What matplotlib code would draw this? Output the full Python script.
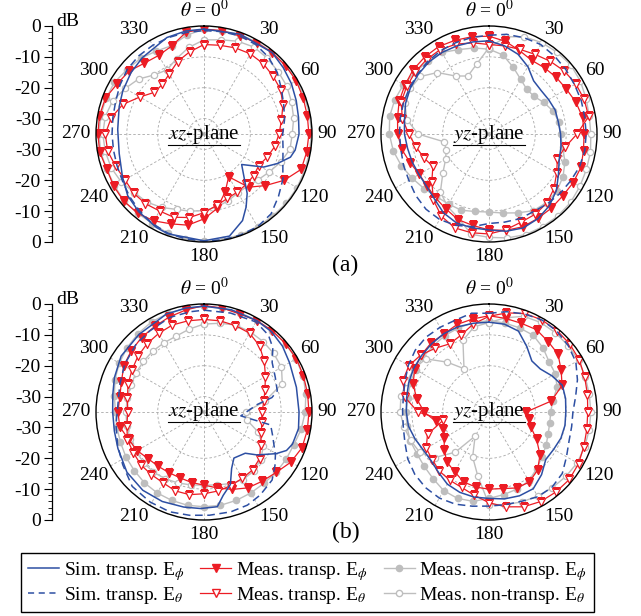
import numpy as np
import matplotlib
matplotlib.use('Agg')
import matplotlib.pyplot as plt
from matplotlib.lines import Line2D
from matplotlib.ticker import FixedLocator

plt.rcParams['font.family'] = 'serif'
plt.rcParams['font.serif'] = ['Liberation Serif', 'DejaVu Serif']
plt.rcParams['mathtext.fontset'] = 'stix'

# angles (deg, clockwise from theta=0) for the measured curves
ang10 = list(range(0, 360, 10))

# ---------------- (a) xz-plane ----------------
a_xz_sp_ang = [0, 20, 40, 50, 60, 70, 80, 90, 100, 105, 112, 119, 129, 137, 144, 150, 156, 166,
               180, 200, 207, 220, 231, 242, 257, 273, 288, 298, 310, 321, 339, 350]
a_xz_sp = [-1, -0.6, -0.6, -1.5, -2.3, -3.2, -3.9, -4.2, -5, -6, -9.4, -12.9, -19.3, -16, -11.2, -7.7,
           -4.3, -0.9, -0.4, -0.6, -1, -2.1, -3.2, -5.1, -6.8, -7, -6.1, -5.2, -4.1, -3.2, -1.5, -1.1]
a_xz_st = [-1.5, -1.3, -1.2, -1.5, -2.5, -4, -6, -7.5, -8.5, -9.5, -9, -7.8, -5.5, -3.5, -1.2, -0.3,
           -0.2, -0.2, -0.3, -0.5, -0.8, -1.5, -2.5, -3.5, -4.5, -5, -5.2, -5.2, -5, -4.5, -3.5, -2.5,
           -2, -1.8, -1.7, -1.6]
a_xz_mtp = [-1, -1, -1.2, -0.8, -0.6, -0.5, -0.5, -0.8, -1, -1, -1.2, -1.5, -5, -9, -12.5, -19, -15,
            -10.5, -7.5, -5, -4, -2.5, -1.5, -1.1, -1.2, -1.5, -0.7, -0.6, -0.6, -1, -2.5, -3.3, -5,
            -5.6, -4.6, -1.5]
a_xz_mtt = [-6, -5.8, -5.3, -5, -5.2, -5.8, -6.3, -7.8, -9.5, -10.7, -11.7, -13.2, -14.5, -14, -13.7,
            -13.3, -12.8, -11.5, -9.5, -7.5, -6.3, -6.2, -5.5, -5.2, -5.4, -4.5, -3.3, -3, -4.5, -7,
            -11, -14, -14, -12.5, -10, -8]
a_xz_mnp = [-1, -1, -0.8, -0.6, -0.5, -0.5, -0.3, -0.3, -0.2, -0.2, -0.3, -0.3, -0.2, -0.2, -0.3, -0.3,
            -0.3, -0.2, -0.2, -0.3, -0.8, -1.5, -1.5, -1.2, -1.5, -1.5, -1, -1, -1, -1.2, -1.5, -2.5,
            -3, -4, -4.5, -2.5]
a_xz_mnt = [-4.5, -4, -3, -2.5, -3, -3.6, -4, -4.8, -5.5, -6.4, -6.7, -8.5, -10.5, -12, -13, -13, -12,
            -11, -10.2, -9.6, -9, -7.5, -6.2, -5.5, -4, -3, -2.5, -2.2, -2.5, -3.5, -5.5, -7.3, -10,
            -11, -9, -6.5]

# ---------------- (a) yz-plane ----------------
a_yz_sp = [-4.8, -6, -7.5, -9.8, -12.5, -13, -12.7, -12.2, -12.2, -11.8, -11.3, -10.8, -9, -6.5, -4.6,
           -3.3, -2.6, -3, -3.9, -4.1, -4.3, -5.5, -7.5, -8.6, -8.8, -8.5, -8.2, -7.6, -7.2, -6.2,
           -5.5, -5, -4.6, -4.5, -4.6, -4.7]
a_yz_st = [-3, -2.2, -1.8, -1.5, -2, -2.5, -3, -3.2, -3.5, -3.5, -3.5, -3.8, -4.5, -5, -5.5, -6, -5.8,
           -6, -6, -4.5, -3.5, -3, -3.2, -4, -5, -5.5, -6, -6, -5.8, -5.5, -5.2, -4.8, -4.2, -3.8,
           -3.5, -3.2]
a_yz_mtp = [-3.3, -4.5, -6.2, -7.4, -7, -6.5, -6, -5, -4.2, -4.2, -3.9, -3.3, -3.5, -3.8, -3.6, -3.4,
            -3, -3.3, -3.9, -4.9, -5.5, -7, -8, -8.8, -8.9, -7.8, -6.3, -5.4, -4.9, -4, -3.5, -2.8,
            -2.5, -2.3, -2.7, -3]
a_yz_mtt = [-6, -6, -5.8, -5.2, -4.2, -3.2, -2.5, -2.2, -2.2, -6.5, -10, -11.4, -9.7, -7.5, -5.8, -5,
            -4.6, -3.5, -2.6, -2.5, -2.6, -4.2, -7, -10.8, -14, -12.5, -11, -9, -6.5, -4.7, -4.2,
            -3.8, -3.5, -3.4, -4, -5]
a_yz_mnp = [-7.5, -9, -12, -14.5, -16, -16, -14.5, -13, -12, -11.8, -10.8, -8.8, -7.3, -6.3, -6, -6.3,
            -7.8, -9, -9.7, -9.5, -8.7, -8.8, -8.5, -7.5, -6.3, -4.8, -3.5, -2.7, -2.3, -2.5, -3,
            -3.8, -4.2, -4.5, -5.9, -6.7]
a_yz_mnt = [-7, -3, -1.5, -0.8, -0.5, -0.3, -0.8, -1.5, -2, -2, -1.6, -1.4, -1, -0.5, -0.3, -0.3,
            -0.3, -0.8, -1.5, -2, -6, -8, -10.5, -15.5, -18.8, -20.2, -20.3, -12, -8, -6, -5.5, -6,
            -9, -13.3, -15, -12]

# ---------------- (b) xz-plane ----------------
b_xz_sp_ang = [0, 15, 30, 40, 50, 60, 75, 90, 100, 110, 115, 120, 129, 135, 147, 154, 160, 167, 172,
               182, 192, 205, 218, 232, 247, 258, 270, 281, 291, 304, 320, 339, 350]
b_xz_sp = [-0.7, -0.7, -0.8, -1, -1.8, -3, -4, -4.2, -3.9, -4.5, -5.5, -8, -12.9, -16.1, -17.2,
           -14.6, -10, -7.3, -4, -3.7, -3.5, -3, -2.8, -3.3, -4.7, -5.3, -5.4, -4.9, -3.9, -2.6,
           -2.2, -1, -0.8]
b_xz_st_ang = [0, 15, 30, 40, 47, 54, 64, 74, 78, 82, 96, 101, 108, 115, 121, 127, 135, 146, 155,
               165, 177, 188, 199, 211, 224, 237, 249, 262, 275, 288, 301, 315, 326, 340, 352]
b_xz_st = [-2, -1.8, -1.3, -2.5, -4.5, -7.7, -9.3, -10.3, -12.5, -17.6, -23, -13, -11.7, -10, -8,
           -6.2, -3.8, -2.5, -1.7, -1.5, -1.5, -1.2, -0.8, -1, -1.5, -3.6, -5, -6.2, -7, -6.3, -5,
           -3.9, -3.4, -2.4, -2.2]
b_xz_mtp = [-0.5, -0.8, -1.2, -0.8, -0.6, -0.5, -0.4, -0.7, -0.9, -1, -1, -1.2, -2.5, -4.5, -5.7,
            -6.6, -8.3, -10, -11.3, -11.8, -12.3, -12.3, -12, -11.4, -10, -9, -7.3, -7.1, -7.3,
            -6.5, -5, -4.2, -3.5, -3, -2.2, -1.4]
b_xz_mtt = [-5, -5, -5.2, -5.5, -7, -9.5, -12, -14, -15.3, -16.2, -16, -15.2, -13.8, -11.5, -10.5,
            -10.2, -9.6, -9, -8.5, -7.8, -7.8, -8.5, -8.5, -8.3, -8.6, -8.6, -9.6, -10.3, -9.8,
            -8.8, -8, -7, -6.2, -5.6, -5, -5]
b_xz_mnp = [-0.8, -0.8, -0.8, -0.7, -0.6, -0.5, -0.6, -0.8, -1.5, -2.2, -3, -4, -4.3, -4.5, -4.8,
            -4.7, -4.5, -4.3, -4.3, -4.3, -4.5, -4.7, -5, -5.5, -5.8, -6.2, -6.3, -6.3, -5.5, -4.3,
            -3.3, -2.5, -1.8, -1.2, -1, -0.9]
b_xz_mnt = [-6.5, -5.8, -5, -5, -5.2, -5.5, -6, -8, -15, -21.5, -21, -16.5, -12.8, -11, -10, -9.7,
            -10.3, -11, -11.3, -11, -10.5, -10, -9.5, -9.5, -9.5, -9.5, -9.6, -9.7, -9.7, -9.7,
            -9.6, -9.4, -9.2, -9.1, -8.8, -7.7]

# ---------------- (b) yz-plane ----------------
b_yz_sp = [-5.9, -6.1, -7.1, -10.5, -13.4, -13.3, -11.5, -9.7, -9.8, -10.1, -10, -10.2, -10.8, -11,
           -8.5, -6.3, -6.1, -6.4, -7, -7, -7.3, -8, -9.5, -10.5, -10.4, -9.5, -8.5, -8.2, -7.9,
           -7.3, -6.8, -6.5, -6.1, -5.7, -5.6, -5.8]
b_yz_st = [-3, -2, -1.2, -0.6, -0.8, -1.5, -2.5, -4.5, -6.5, -7.8, -7.8, -7.4, -6, -4, -3.2, -3.3,
           -4.2, -4.5, -4.5, -4, -3.2, -2.8, -3, -3.6, -4.6, -6, -6.8, -7, -6.8, -6, -4.8, -3.8,
           -3.3, -3.3, -3.3, -2.5]
b_yz_mtp = [-3.8, -4.2, -4.4, -4.2, -5.2, -5.8, -8, -9.8, -14.5, -23, -22, -20.5, -17.2, -13.4,
            -10.5, -8.8, -8.8, -9.8, -10, -10.3, -10.9, -12.7, -13.8, -16, -18.3, -19.2, -17.5, -14,
            -11.3, -8.8, -7.2, -6.3, -5.8, -5.8, -4.8, -4.4]
b_yz_mtt = [-4, -2.4, -1, -0.6, -0.6, -0.8, -1.2, -2, -2.6, -3, -2.8, -2.3, -1.5, -1, -1.2, -1.5,
            -2.3, -3.8, -5.6, -7.6, -9, -9.5, -10, -11, -11.5, -13.8, -20, -12, -7.3, -5.3, -5,
            -6.2, -8, -9.5, -8.5, -6]
b_yz_mnp = [-5.4, -5.7, -6, -6.3, -7.8, -9.6, -10.2, -11.5, -14, -15, -15, -14.6, -13.6, -12.5, -11,
            -9.2, -8.4, -7.8, -7, -5.6, -5.2, -5.6, -6.8, -7.6, -8, -7.8, -8, -8.1, -8.3, -7.8,
            -7.5, -7.2, -6.9, -6.4, -6, -5.6]
b_yz_mnt = [-6, -4, -2, -1.5, -1.5, -1.5, -1.5, -1.8, -2, -2, -2, -2, -2, -2.5, -3, -3.5, -4, -4.5,
            -5, -14, -19.5, -26, -18, -12, -9, -8, -7, -6.2, -6, -6.5, -7, -8.2, -13.9, -18.8,
            -10.3, -7]

theta_ticks = list(range(0, 360, 30))
db_ticks = [0, -10, -20, -30]

BLUE = '#2d4fa3'
RED = '#ec1c24'
GREY = '#bebebe'

W, H = 641, 616
R = 108
fig = plt.figure(figsize=(W / 100, H / 100), dpi=100)


def closed(ang, vals):
    a = np.deg2rad(list(ang) + [ang[0] + 360])
    return a, list(vals) + [vals[0]]


def polar_panel(cx, cy, plane, sp_ang, sp, st_ang, st, mtp, mtt, mnp, mnt):
    ax = fig.add_axes([(cx - R) / W, 1 - (cy + R) / H, 2 * R / W, 2 * R / H], projection='polar')
    ax.set_theta_zero_location('N')
    ax.set_theta_direction(-1)
    ax.set_ylim(-35, 0)
    ax.set_yticks([-30, -20, -10])
    ax.set_yticklabels([])
    ax.set_xticks(np.deg2rad(theta_ticks))
    ax.set_xticklabels([])
    ax.tick_params(axis='x', direction='out', length=5, width=0.8, color='black')
    ax.grid(True, color='#a8a8a8', linestyle=(0, (3, 2.5)), linewidth=0.6)
    ax.spines['polar'].set_color('black')
    ax.spines['polar'].set_linewidth(1.0)

    # measured non-transparent (grey)
    ax.plot(*closed(ang10, mnp), color=GREY, lw=1.0, marker='o', ms=4.5, mfc=GREY, mec=GREY)
    ax.plot(*closed(ang10, mnt), color=GREY, lw=1.0, marker='o', ms=4.5, mfc='white', mec=GREY, mew=0.9)
    # measured transparent (red)
    ax.plot(*closed(ang10, mtp), color=RED, lw=0.9, marker='v', ms=5.5, mfc=RED, mec=RED)
    ax.plot(*closed(ang10, mtt), color=RED, lw=0.9, marker='v', ms=5.5, mfc='white', mec=RED, mew=0.9)
    # simulation (blue)
    ax.plot(*closed(sp_ang, sp), color=BLUE, lw=1.1)
    ax.plot(*closed(st_ang, st), color=BLUE, lw=1.1, linestyle=(0, (5, 3)))

    # angle labels
    for a in theta_ticks[1:]:
        t = np.deg2rad(a)
        s, c = np.sin(t), np.cos(t)
        ha = 'left' if s > 0.1 else ('right' if s < -0.1 else 'center')
        va = 'bottom' if c > 0.1 else ('top' if c < -0.1 else 'center')
        off = 1.9 if a % 90 == 0 else 0.8
        ax.text(t, off, str(a), ha=ha, va=va, fontsize=14)
    ax.text(0, 1.6, r'$\theta$ = 0$^0$', ha='center', va='bottom', fontsize=14)

    txt = ax.text(0.5, 0.5, r'$\mathit{' + plane + '}$-plane', transform=ax.transAxes,
                  ha='center', va='center', fontsize=15)
    return txt


def db_axis(cy):
    ax = fig.add_axes([52 / W, 1 - (cy + R) / H, 0.0005, 2 * R / H])
    ax.set_ylim(-35, 35)
    for s in ['top', 'right', 'bottom']:
        ax.spines[s].set_visible(False)
    ax.spines['left'].set_linewidth(0.9)
    ax.set_xticks([])
    pos = [35 + d for d in db_ticks] + [-(35 + d) for d in db_ticks]
    ax.set_yticks(pos)
    ax.set_yticklabels([str(d) for d in db_ticks] * 2)
    minor = [35 - k for k in range(0, 36, 2)] + [-(35 - k) for k in range(0, 36, 2)]
    ax.yaxis.set_minor_locator(FixedLocator(minor))
    ax.tick_params(axis='y', which='major', length=6, width=0.8, labelsize=14, pad=2)
    ax.tick_params(axis='y', which='minor', length=3, width=0.6)
    fig.text(56 / W, 1 - (cy - R - 5) / H, 'dB', ha='left', va='center', fontsize=14)


labels = []
labels.append(polar_panel(204, 134, 'xz', a_xz_sp_ang, a_xz_sp, ang10, a_xz_st,
                          a_xz_mtp, a_xz_mtt, a_xz_mnp, a_xz_mnt))
labels.append(polar_panel(489, 134, 'yz', ang10, a_yz_sp, ang10, a_yz_st,
                          a_yz_mtp, a_yz_mtt, a_yz_mnp, a_yz_mnt))
labels.append(polar_panel(204, 412, 'xz', b_xz_sp_ang, b_xz_sp, b_xz_st_ang, b_xz_st,
                          b_xz_mtp, b_xz_mtt, b_xz_mnp, b_xz_mnt))
labels.append(polar_panel(489, 412, 'yz', ang10, b_yz_sp, ang10, b_yz_st,
                          b_yz_mtp, b_yz_mtt, b_yz_mnp, b_yz_mnt))
db_axis(134)
db_axis(412)

fig.text(345 / W, 1 - 265 / H, '(a)', ha='center', va='center', fontsize=17)
fig.text(346 / W, 1 - 532 / H, '(b)', ha='center', va='center', fontsize=17)

handles = [
    Line2D([], [], color=BLUE, lw=1.1),
    Line2D([], [], color=BLUE, lw=1.1, linestyle=(0, (4, 3))),
    Line2D([], [], color=RED, lw=0.9, marker='v', ms=5.5, mfc=RED, mec=RED),
    Line2D([], [], color=RED, lw=0.9, marker='v', ms=5.5, mfc='white', mec=RED),
    Line2D([], [], color=GREY, lw=1.0, marker='o', ms=4.5, mfc=GREY, mec=GREY),
    Line2D([], [], color=GREY, lw=1.0, marker='o', ms=4.5, mfc='white', mec=GREY),
]
names = [r'Sim. transp. E$_{\phi}$', r'Sim. transp. E$_{\theta}$',
         r'Meas. transp. E$_{\phi}$', r'Meas. transp. E$_{\theta}$',
         r'Meas. non-transp. E$_{\phi}$', r'Meas. non-transp. E$_{\theta}$']
leg = fig.legend(handles, names, loc='upper left', bbox_to_anchor=(21 / W, 1 - 553 / H),
                 ncol=3, fontsize=14, frameon=True, fancybox=False, edgecolor='black',
                 framealpha=1, borderaxespad=0, handlelength=1.6, handletextpad=0.25,
                 columnspacing=0.8, borderpad=0.35, labelspacing=0.1)
leg.get_frame().set_linewidth(1.0)

# underline the plane labels
fig.canvas.draw()
inv = fig.transFigure.inverted()
for t in labels:
    bb = t.get_window_extent().transformed(inv)
    fig.add_artist(Line2D([bb.x0, bb.x1], [bb.y0 + 1 / H] * 2, transform=fig.transFigure,
                          color='black', lw=0.8))

fig.savefig('out.png', dpi=100)
